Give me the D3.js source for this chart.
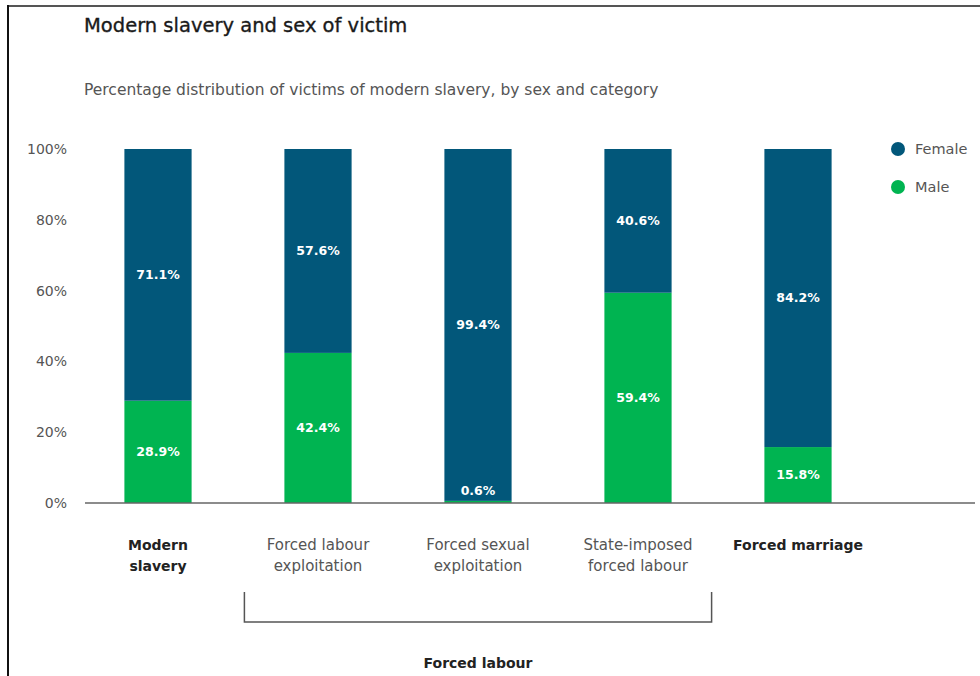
<!DOCTYPE html>
<html>
<head>
<meta charset="utf-8">
<script src="https://cdn.jsdelivr.net/npm/d3@7"></script>
<style>
  body { margin: 0; background: #fff; }
  text { font-family: "DejaVu Sans", sans-serif; }
</style>
</head>
<body>
<svg id="chart" width="980" height="676"></svg>
<script>
// ===== DATA =====
const categories = ["Modern slavery", "Forced labour exploitation", "Forced sexual exploitation", "State-imposed forced labour", "Forced marriage"];
const categoryLines = [["Modern", "slavery"], ["Forced labour", "exploitation"], ["Forced sexual", "exploitation"], ["State-imposed", "forced labour"], ["Forced marriage"]];
const boldCategory = [true, false, false, false, true];
const male = [28.9, 42.4, 0.6, 59.4, 15.8];
const female = [71.1, 57.6, 99.4, 40.6, 84.2];
const series = ["Male", "Female"];
const yTicks = [0, 20, 40, 60, 80, 100];
const groupLabel = "Forced labour";

const colors = { Female: "#02577a", Male: "#00b451" };

const svg = d3.select("svg#chart");

// frame
svg.append("line").attr("x1", 8).attr("x2", 980).attr("y1", 6).attr("y2", 6)
    .attr("stroke", "#555").attr("stroke-width", 2);
svg.append("line").attr("x1", 8).attr("x2", 8).attr("y1", 5).attr("y2", 676)
    .attr("stroke", "#111").attr("stroke-width", 2);

// titles
svg.append("text").attr("x", 84).attr("y", 32)
    .attr("font-size", 19.5).attr("font-weight", 400).attr("fill", "#1a1a1a")
    .attr("stroke", "#1a1a1a").attr("stroke-width", 0.35)
    .text("Modern slavery and sex of victim");
svg.append("text").attr("x", 84).attr("y", 95)
    .attr("font-size", 15.5).attr("fill", "#555")
    .text("Percentage distribution of victims of modern slavery, by sex and category");

// scales
const x = d3.scaleBand().domain(categories).range([78, 878]).paddingInner(0.58).paddingOuter(0.29);
const y = d3.scaleLinear().domain([0, 100]).range([503, 149]);

// stack
const rows = categories.map((c, i) => ({ cat: c, Male: male[i], Female: female[i] }));
const stacked = d3.stack().keys(series)(rows);

// y axis labels
svg.append("g")
    .attr("transform", "translate(67,0)")
    .call(d3.axisLeft(y).tickValues(yTicks).tickSize(0).tickPadding(0).tickFormat(d => d + "%"))
    .call(g => g.select(".domain").remove())
    .call(g => g.selectAll("text").attr("font-size", 14).attr("fill", "#555")
        .attr("font-family", "\"DejaVu Sans\", sans-serif"));

// bars
svg.append("g").selectAll("g")
    .data(stacked)
    .join("g")
    .attr("fill", d => colors[d.key])
    .selectAll("rect")
    .data(d => d)
    .join("rect")
    .attr("x", d => x(d.data.cat))
    .attr("width", x.bandwidth())
    .attr("y", d => y(d[1]))
    .attr("height", d => y(d[0]) - y(d[1]));

// baseline
svg.append("line").attr("x1", 85).attr("x2", 975).attr("y1", y(0)).attr("y2", y(0))
    .attr("stroke", "#666").attr("stroke-width", 1.5);

// value labels
stacked.forEach(s => {
    svg.append("g").selectAll("text")
        .data(s)
        .join("text")
        .attr("x", d => x(d.data.cat) + x.bandwidth() / 2)
        .attr("y", d => {
            const v = d[1] - d[0];
            if (v < 3) return y(d[1]) - 10;   // tiny segment: put label just above
            return y((d[0] + d[1]) / 2);
        })
        .attr("dy", "0.35em")
        .attr("text-anchor", "middle")
        .attr("font-size", 12.5).attr("font-weight", 600).attr("fill", "#fff")
        .text(d => (d[1] - d[0]).toFixed(1) + "%");
});

// category labels
const catG = svg.append("g").selectAll("text")
    .data(categories)
    .join("text")
    .attr("text-anchor", "middle")
    .attr("font-size", (d, i) => boldCategory[i] ? 14 : 15)
    .attr("font-weight", (d, i) => boldCategory[i] ? 600 : 400)
    .attr("fill", (d, i) => boldCategory[i] ? "#222" : "#555");
catG.each(function (d, i) {
    const t = d3.select(this);
    categoryLines[i].forEach((line, j) => {
        t.append("tspan")
            .attr("x", x(d) + x.bandwidth() / 2)
            .attr("y", 550 + j * 21)
            .text(line);
    });
});

// bracket for forced labour group
const bx0 = x(categories[1]) - 40, bx1 = x(categories[3]) + x.bandwidth() + 40;
svg.append("path")
    .attr("d", `M${bx0},592V622H${bx1}V592`)
    .attr("fill", "none").attr("stroke", "#555").attr("stroke-width", 1.5);
svg.append("text")
    .attr("x", (bx0 + bx1) / 2).attr("y", 668)
    .attr("text-anchor", "middle").attr("font-size", 14).attr("font-weight", 600).attr("fill", "#222")
    .text(groupLabel);

// legend
const legend = svg.append("g").selectAll("g")
    .data(["Female", "Male"])
    .join("g")
    .attr("transform", (d, i) => `translate(898,${149 + i * 38})`);
legend.append("circle").attr("r", 7).attr("fill", d => colors[d]);
legend.append("text").attr("x", 17).attr("dy", "0.35em")
    .attr("font-size", 14.5).attr("fill", "#555").text(d => d);
</script>
</body>
</html>
